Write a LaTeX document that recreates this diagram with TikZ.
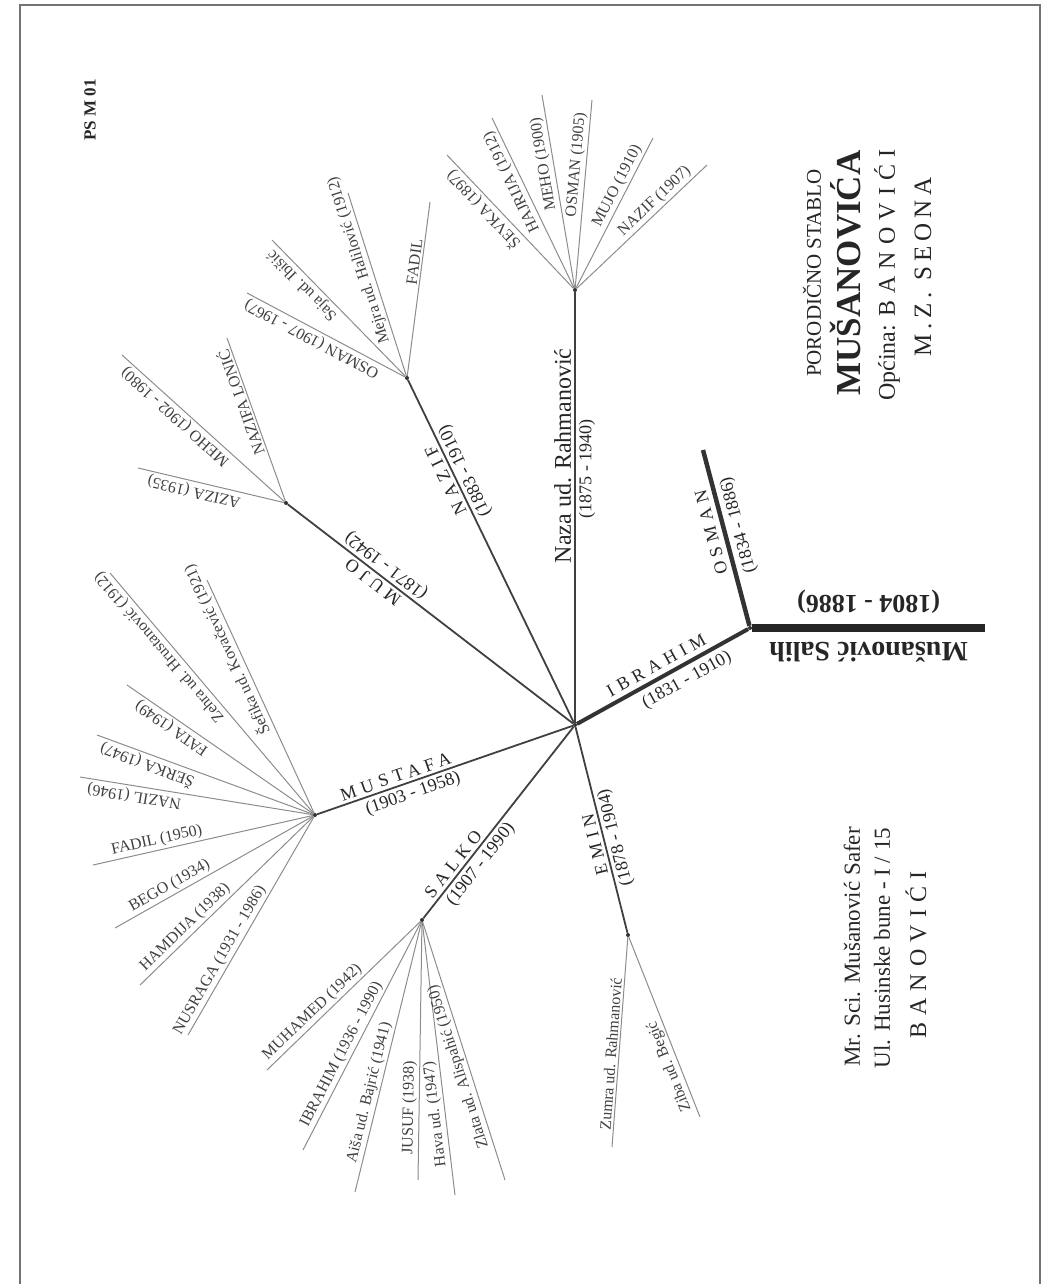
\documentclass[tikz,border=0pt]{standalone}
\usepackage{fontspec}
\setmainfont{Liberation Serif}
\usetikzlibrary{positioning}

\newcommand{\spaced}[2][30]{{\addfontfeature{LetterSpace=#1}#2}}

\tikzset{
  frame/.style={draw=black!55, line width=1.2pt},
  hub/.style={circle, fill=black!80, inner sep=0pt, minimum size=4pt},
  branch/.style={draw=black!75, line width=1.8pt},
  twig/.style={draw=black!45, line width=1pt},
  lab/.style={sloped, allow upside down, text=black!85, inner sep=3pt, font=\fontsize{18}{18}\selectfont},
  leaflab/.style={sloped, allow upside down, above, pos=0.65, text=black!75, inner sep=2pt, font=\fontsize{16}{16}\selectfont},
  titletext/.style={rotate=90, text=black!85, inner sep=0pt},
}

\begin{document}
\begin{tikzpicture}[x=1pt, y=-1pt]
\useasboundingbox (0,0) rectangle (1046,1284);
\draw[frame] (20,1284) -- (20,5) -- (1040,5) -- (1040,1284);

% people on the main stem
\coordinate (salihend) at (985,628);
\node[hub] (salih) at (750,628) {};
\coordinate (osman) at (703,450);
\node[hub] (ibrahim) at (575,725) {};
\node[hub] (naza) at (575,290) {};
\node[hub] (nazif) at (407,378) {};
\node[hub] (mujo) at (286,503) {};
\node[hub] (mustafa) at (315,815) {};
\node[hub] (salko) at (422,920) {};
\node[hub] (emin) at (628,935) {};

\draw[draw=black!85, line width=8pt] (salihend) -- node[lab, above, inner sep=10pt, font=\fontsize{28}{28}\selectfont\bfseries]{Mušanović Salih} node[lab, below, inner sep=10pt, font=\fontsize{26}{26}\selectfont\bfseries]{(1804 - 1886)} (salih);
\draw[draw=black!80, line width=4.5pt] (salih) -- node[lab, above, pos=0.55, inner sep=5pt]{\spaced{OSMAN}} node[lab, below, pos=0.55, inner sep=5pt]{(1834 - 1886)} (osman);
\draw[draw=black!80, line width=4pt] (ibrahim) -- node[lab, above, inner sep=5pt]{\spaced{IBRAHIM}} node[lab, below, pos=0.6, inner sep=5pt]{(1831 - 1910)} (salih);

% children of Ibrahim
\draw[branch] (ibrahim) -- node[lab, above, pos=0.62, font=\fontsize{24}{24}\selectfont]{Naza ud. Rahmanović} node[lab, below, pos=0.59]{(1875 - 1940)} (naza);
\draw[branch] (ibrahim) -- node[lab, above, pos=0.72]{\spaced{NAZIF}} node[lab, below, pos=0.72]{(1883 - 1910)} (nazif);
\draw[branch] (ibrahim) -- node[lab, above, pos=0.68]{\spaced{MUJO}} node[lab, below, pos=0.68]{(1871 - 1942)} (mujo);
\draw[branch] (mustafa) -- node[lab, above, pos=0.32]{\spaced{MUSTAFA}} node[lab, below, pos=0.36]{(1903 - 1958)} (ibrahim);
\draw[branch] (salko) -- node[lab, above, pos=0.25]{\spaced{SALKO}} node[lab, below, pos=0.32]{(1907 - 1990)} (ibrahim);
\draw[branch] (emin) -- node[lab, above, pos=0.44]{\spaced{EMIN}} node[lab, below, pos=0.45]{(1878 - 1904)} (ibrahim);

% Naza
\coordinate (t1) at (447,155);
\coordinate (t2) at (492,118);
\coordinate (t3) at (542,95);
\coordinate (t4) at (592,100);
\coordinate (t5) at (653,138);
\coordinate (t6) at (707,165);
\draw[twig] (naza) -- node[leaflab]{ŠEVKA (1897)} (t1);
\draw[twig] (naza) -- node[leaflab]{HAJRIJA (1912)} (t2);
\draw[twig] (naza) -- node[leaflab]{MEHO (1900)} (t3);
\draw[twig] (naza) -- node[leaflab]{OSMAN (1905)} (t4);
\draw[twig] (naza) -- node[leaflab]{MUJO (1910)} (t5);
\draw[twig] (naza) -- node[leaflab]{NAZIF (1907)} (t6);

% Nazif
\coordinate (n1) at (247,293);
\coordinate (n2) at (272,240);
\coordinate (n3) at (348,193);
\coordinate (n4) at (430,202);
\draw[twig] (nazif) -- node[leaflab, pos=0.56]{OSMAN (1907 - 1967)} (n1);
\draw[twig] (nazif) -- node[leaflab, pos=0.72]{Saja ud. Ibišić} (n2);
\draw[twig] (nazif) -- node[leaflab]{Mejra ud. Halilović (1912)} (n3);
\draw[twig] (nazif) -- node[leaflab]{FADIL} (n4);

% Mujo
\coordinate (j1) at (122,355);
\coordinate (j2) at (227,338);
\coordinate (j3) at (138,468);
\draw[twig] (mujo) -- node[leaflab, pos=0.63]{MEHO (1902 - 1980)} (j1);
\draw[twig] (mujo) -- node[leaflab, pos=0.62]{NAZIFA LONIĆ} (j2);
\draw[twig] (mujo) -- node[leaflab, pos=0.6]{AZIZA (1935)} (j3);

% Mustafa
\coordinate (u1) at (110,573);
\coordinate (u2) at (207,580);
\coordinate (u3) at (127,685);
\coordinate (u4) at (97,735);
\coordinate (u5) at (80,777);
\coordinate (u6) at (93,865);
\coordinate (u7) at (115,928);
\coordinate (u8) at (140,985);
\coordinate (u9) at (188,1035);
\draw[twig] (mustafa) -- node[leaflab, pos=0.72]{Zehra ud. Hrustanović (1912)} (u1);
\draw[twig] (mustafa) -- node[leaflab, pos=0.72]{Šefika ud. Kovačević (1921)} (u2);
\draw[twig] (mustafa) -- node[leaflab, pos=0.73]{FATA (1949)} (u3);
\draw[twig] (mustafa) -- node[leaflab, pos=0.75]{ŠERKA (1947)} (u4);
\draw[twig] (mustafa) -- node[leaflab, pos=0.76]{NAZIL (1946)} (u5);
\draw[twig] (u6) -- node[leaflab, pos=0.3]{FADIL (1950)} (mustafa);
\draw[twig] (u7) -- node[leaflab, pos=0.3]{BEGO (1934)} (mustafa);
\draw[twig] (u8) -- node[leaflab, pos=0.3]{HAMDIJA (1938)} (mustafa);
\draw[twig] (u9) -- node[leaflab, pos=0.32]{NUSRAGA (1931 - 1986)} (mustafa);

% Salko
\coordinate (s1) at (267,1070);
\coordinate (s2) at (303,1150);
\coordinate (s3) at (355,1192);
\coordinate (s4) at (418,1180);
\coordinate (s5) at (455,1195);
\coordinate (s6) at (505,1180);
\draw[twig] (s1) -- node[leaflab, pos=0.34]{MUHAMED (1942)} (salko);
\draw[twig] (s2) -- node[leaflab, pos=0.4]{IBRAHIM (1936 - 1990)} (salko);
\draw[twig] (s3) -- node[leaflab, pos=0.36]{Aiša ud. Bajrić (1941)} (salko);
\draw[twig] (s4) -- node[leaflab, pos=0.28]{JUSUF (1938)} (salko);
\draw[twig] (s5) -- node[leaflab, pos=0.3]{Hava ud. (1947)} (salko);
\draw[twig] (s6) -- node[leaflab, pos=0.45]{Zlata ud. Alispahić (1950)} (salko);

% Emin
\coordinate (e1) at (612,1147);
\coordinate (e2) at (700,1117);
\draw[twig] (e1) -- node[leaflab, pos=0.44]{Zumra ud. Rahmanović} (emin);
\draw[twig] (e2) -- node[leaflab, pos=0.3]{Ziba ud. Begić} (emin);

% title
\node[titletext, font=\fontsize{21}{21}\selectfont] (porodicno) at (812,273) {PORODIČNO STABLO};
\node[titletext, font=\fontsize{35}{35}\selectfont\bfseries] (prezime) at (846,273) {MUŠANOVIĆA};
\node[titletext, font=\fontsize{24}{24}\selectfont] (opcina) at (887,275) {Općina: \spaced{BANOVIĆI}};
\node[titletext, font=\fontsize{25}{25}\selectfont] (mz) at (923,267) {\spaced[20]{M.Z. SEONA}};
\node[titletext, font=\fontsize{17}{17}\selectfont\bfseries] (oznaka) at (90,110) {PS M 01};

% author
\node[titletext, font=\fontsize{23}{23}\selectfont] (autor) at (852,947) {Mr. Sci. Mušanović Safer};
\node[titletext, font=\fontsize{23}{23}\selectfont] (adresa) at (882,948) {Ul. Husinske bune - I / 15};
\node[titletext, font=\fontsize{24}{24}\selectfont] (grad) at (916,955) {\spaced{BANOVIĆI}};
\end{tikzpicture}
\end{document}
